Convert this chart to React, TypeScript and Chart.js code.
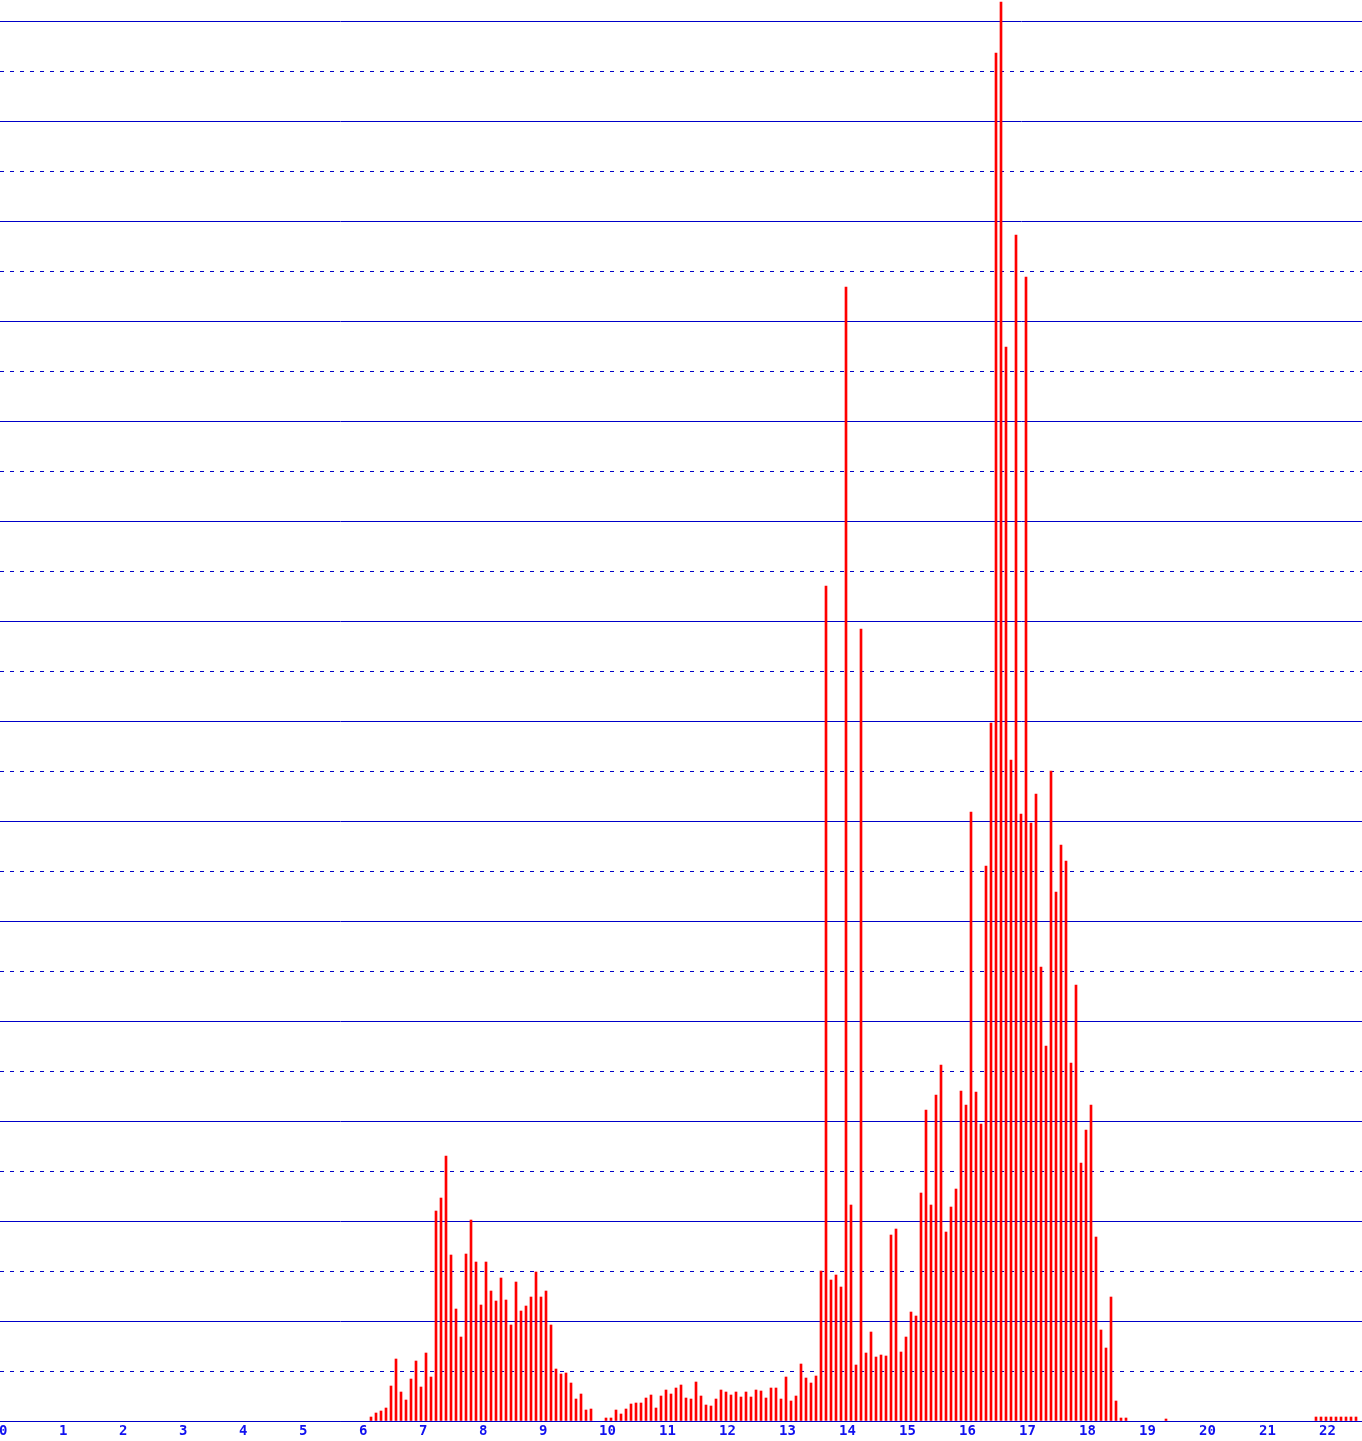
import React, { useEffect, useRef } from "react";
import { Chart, registerables } from "chart.js";

Chart.register(...registerables);

// Hour tick labels along the time axis (one tick every 60 minutes)
const hourLabels = [
  "0", "1", "2", "3", "4", "5", "6", "7", "8", "9", "10", "11",
  "12", "13", "14", "15", "16", "17", "18", "19", "20", "21", "22",
];

const binMinutes = 5;

// Morning block: 06:10 – 09:50
const morningStartMinute = 370;
const morningCounts = [
  0.4, 0.8, 1.0, 1.3, 3.5, 6.2, 2.9, 2.1, 4.2, 6.0,
  3.4, 6.8, 4.4, 21.0, 22.3, 26.5, 16.6, 11.2, 8.4, 16.7,
  20.1, 15.9, 11.6, 15.9, 13.0, 12.0, 14.3, 12.1, 9.6, 13.9,
  11.0, 11.5, 12.4, 14.9, 12.4, 13.0, 9.6, 5.2, 4.7, 4.8,
  3.8, 2.2, 2.7, 1.1, 1.2,
];

// Daytime block: 10:05 – 18:45
const daytimeStartMinute = 605;
const daytimeCounts = [
  0.3, 0.3, 1.1, 0.7, 1.2, 1.7, 1.8, 1.8, 2.3, 2.6,
  1.3, 2.5, 3.1, 2.7, 3.3, 3.6, 2.3, 2.2, 3.9, 2.5,
  1.6, 1.5, 2.2, 3.1, 2.9, 2.6, 2.9, 2.4, 2.9, 2.4,
  3.1, 3.0, 2.3, 3.3, 3.3, 2.2, 4.4, 2.0, 2.5, 5.7,
  4.3, 3.8, 4.5, 15.0, 83.5, 14.1, 14.6, 13.4, 113.4, 21.6,
  5.6, 79.2, 6.8, 8.9, 6.4, 6.6, 6.5, 18.6, 19.2, 6.9,
  8.4, 10.9, 10.5, 22.8, 31.1, 21.6, 32.6, 35.6, 18.9, 21.4,
  23.2, 33.0, 31.6, 60.9, 32.9, 29.7, 55.5, 69.8, 136.8, 141.9,
  107.4, 66.1, 118.6, 60.7, 114.4, 59.8, 62.7, 45.4, 37.5, 65.0,
  52.9, 57.6, 56.0, 35.8, 43.6, 25.8, 29.1, 31.6, 18.4, 9.1,
  7.3, 12.4, 2.0, 0.3, 0.3,
];

// Evening: 19:25
const eveningStartMinute = 1165;
const eveningCounts = [0.2];

// Night block: 21:55 – 22:35
const nightStartMinute = 1315;
const nightCounts = [0.4, 0.4, 0.4, 0.4, 0.4, 0.4, 0.4, 0.4, 0.4];

const solidGridStep = 10;
const dashedGridStep = 5;
const valueAxisMax = 142.11;
const timeAxisMin = -1;
const timeAxisMax = 1361;

const GRID_COLOR = "#0000c8";
const LABEL_COLOR = "#1010f0";
const BAR_COLOR = "#ff0000";

function toPoints(start: number, counts: number[]) {
  return counts.map((v, i) => ({ x: start + i * binMinutes, y: v }));
}

export default function App() {
  const canvasRef = useRef<HTMLCanvasElement | null>(null);

  useEffect(() => {
    const canvas = canvasRef.current;
    if (!canvas) return;

    const points = [
      ...toPoints(morningStartMinute, morningCounts),
      ...toPoints(daytimeStartMinute, daytimeCounts),
      ...toPoints(eveningStartMinute, eveningCounts),
      ...toPoints(nightStartMinute, nightCounts),
    ];

    const chart = new Chart(canvas, {
      type: "bar",
      data: {
        datasets: [
          {
            data: points as any,
            backgroundColor: BAR_COLOR,
            borderWidth: 0,
            barThickness: 2,
            xAxisID: "x",
            yAxisID: "y",
          },
        ],
      },
      options: {
        animation: false,
        responsive: false,
        maintainAspectRatio: false,
        devicePixelRatio: 1,
        layout: { padding: 0 },
        plugins: {
          legend: { display: false },
          tooltip: { enabled: false },
          title: { display: false },
        },
        scales: {
          x: {
            type: "linear",
            position: "bottom",
            min: timeAxisMin,
            max: timeAxisMax,
            offset: false,
            grid: { display: false, offset: false, drawTicks: false },
            border: { display: true, color: GRID_COLOR, width: 1 },
            ticks: {
              stepSize: 60,
              includeBounds: false,
              autoSkip: false,
              maxRotation: 0,
              minRotation: 0,
              align: "start",
              labelOffset: -2,
              padding: 2,
              color: LABEL_COLOR,
              font: { family: "'DejaVu Sans Mono', monospace", size: 14, weight: "bold" },
              callback: (value: any) => hourLabels[Math.round(Number(value) / 60)] ?? "",
            },
            afterFit: (scale: any) => {
              scale.height = 20;
              scale.paddingLeft = 0;
              scale.paddingRight = 0;
            },
          },
          y: {
            type: "linear",
            position: "left",
            min: 0,
            max: valueAxisMax,
            grid: { color: GRID_COLOR, lineWidth: 1, drawTicks: false },
            border: { display: false },
            ticks: { display: false, stepSize: solidGridStep, includeBounds: false },
            afterFit: (scale: any) => {
              scale.width = 0;
            },
          },
          y2: {
            type: "linear",
            position: "left",
            min: 0,
            max: valueAxisMax,
            grid: {
              color: (ctx: any) =>
                ctx.tick && Math.round(ctx.tick.value) % solidGridStep === 0
                  ? "rgba(0,0,0,0)"
                  : GRID_COLOR,
              lineWidth: 1,
              drawTicks: false,
            },
            border: { display: false, dash: [4, 6] },
            ticks: { display: false, stepSize: dashedGridStep, includeBounds: false },
            afterFit: (scale: any) => {
              scale.width = 0;
            },
          },
        },
      } as any,
    });

    return () => {
      chart.destroy();
    };
  }, []);

  return (
    <div style={{ position: "absolute", left: 0, top: 0, width: 1362, height: 1441 }}>
      <canvas ref={canvasRef} width={1362} height={1441} style={{ display: "block" }} />
    </div>
  );
}
